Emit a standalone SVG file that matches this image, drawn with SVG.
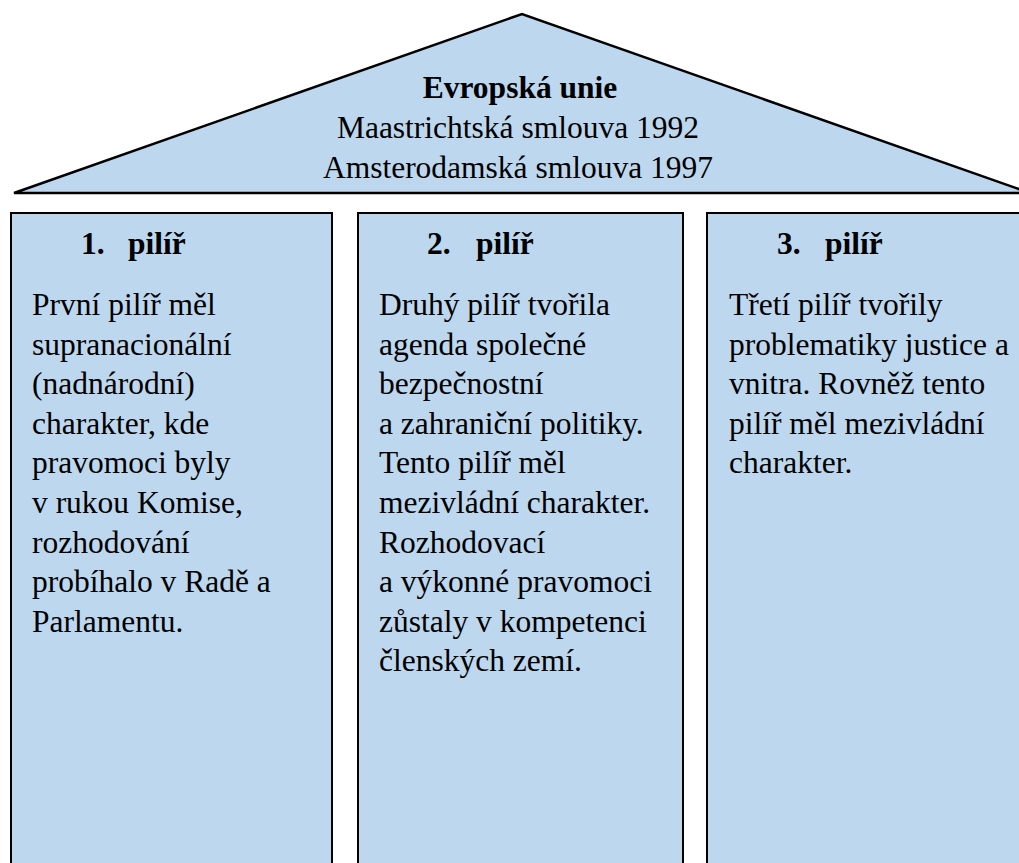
<svg xmlns="http://www.w3.org/2000/svg" width="1019" height="863" viewBox="0 0 1019 863">
<style>
.shape{fill:#BDD7EE;stroke:#000;stroke-width:2}
.roof{fill:#BDD7EE;stroke:#000;stroke-width:2.5;stroke-linejoin:miter}
text{font-family:"Liberation Serif","Times New Roman",serif;font-size:31.5px;fill:#000}
.b{font-weight:bold}
.c{text-anchor:middle}
</style>
<rect width="1019" height="863" fill="#fff"/>
<g id="roof">
<polygon class="roof" points="14,193 522,14 1030,193"/>
<text class="b c" x="520" y="98">Evropská unie</text>
<text class="c" x="518" y="138">Maastrichtská smlouva 1992</text>
<text class="c" x="518" y="178">Amsterodamská smlouva 1997</text>
</g>
<g id="pillar1">
<rect class="shape" x="11" y="213" width="321" height="670"/>
<text class="b" x="81" y="254">1.</text>
<text class="b" x="128" y="254">pilíř</text>
<text x="32" y="315">První pilíř měl</text>
<text x="32" y="354.6">supranacionální</text>
<text x="32" y="394.2">(nadnárodní)</text>
<text x="32" y="433.8">charakter, kde</text>
<text x="32" y="473.4">pravomoci byly</text>
<text x="32" y="513">v rukou Komise,</text>
<text x="32" y="552.6">rozhodování</text>
<text x="32" y="592.2">probíhalo v Radě a</text>
<text x="32" y="631.8">Parlamentu.</text>
</g>
<g id="pillar2">
<rect class="shape" x="358" y="213" width="325" height="670"/>
<text class="b" x="427" y="254">2.</text>
<text class="b" x="476" y="254">pilíř</text>
<text x="379" y="315">Druhý pilíř tvořila</text>
<text x="379" y="354.6">agenda společné</text>
<text x="379" y="394.2">bezpečnostní</text>
<text x="379" y="433.8">a zahraniční politiky.</text>
<text x="379" y="473.4">Tento pilíř měl</text>
<text x="379" y="513">mezivládní charakter.</text>
<text x="379" y="552.6">Rozhodovací</text>
<text x="379" y="592.2">a výkonné pravomoci</text>
<text x="379" y="631.8">zůstaly v kompetenci</text>
<text x="379" y="671.4">členských zemí.</text>
</g>
<g id="pillar3">
<rect class="shape" x="707" y="213" width="340" height="670"/>
<text class="b" x="777" y="254">3.</text>
<text class="b" x="825" y="254">pilíř</text>
<text x="729" y="315">Třetí pilíř tvořily</text>
<text x="729" y="354.6">problematiky justice a</text>
<text x="729" y="394.2">vnitra. Rovněž tento</text>
<text x="729" y="433.8">pilíř měl mezivládní</text>
<text x="729" y="473.4">charakter.</text>
</g>
<g id="connectors"></g>
</svg>
